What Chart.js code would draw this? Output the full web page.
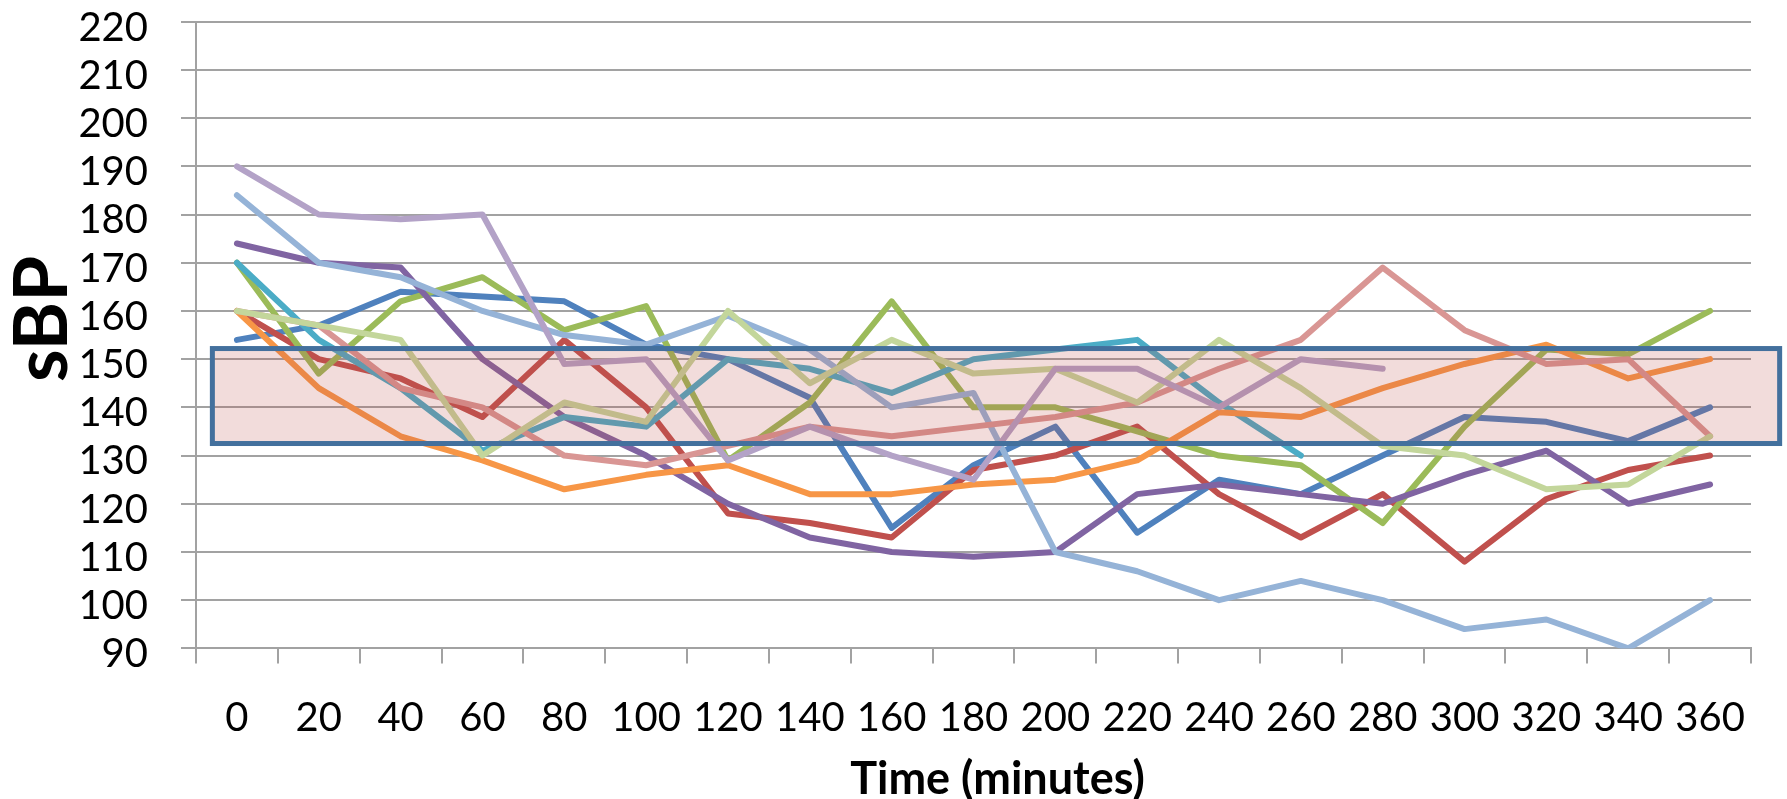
<!DOCTYPE html>
<html>
<head>
<meta charset="utf-8">
<script src="https://cdn.jsdelivr.net/npm/chart.js@4.4.1/dist/chart.umd.min.js"></script>
<style>
  html, body { margin: 0; padding: 0; background: #ffffff; }
  #wrap { width: 1787px; height: 799px; position: relative; }
  canvas { display: block; }
</style>
</head>
<body>
<div id="wrap"><canvas id="c" width="1787" height="799"></canvas></div>
<script>
// ---- data ----
const categories = ['0','20','40','60','80','100','120','140','160','180','200','220','240','260','280','300','320','340','360'];
const yTickValues = [90,100,110,120,130,140,150,160,170,180,190,200,210,220];

const patient1 = [154,157,164,163,162,153,150,142,115,128,136,114,125,122,130,138,137,133,140];
const patient2 = [160,150,146,138,154,140,118,116,113,127,130,136,122,113,122,108,121,127,130];
const patient3 = [170,147,162,167,156,161,129,141,162,140,140,135,130,128,116,136,152,151,160];
const patient4 = [174,170,169,150,138,130,120,113,110,109,110,122,124,122,120,126,131,120,124];
const patient5 = [170,154,144,131,138,136,150,148,143,150,152,154,141,130,null,null,null,null,null];
const patient6 = [160,144,134,129,123,126,128,122,122,124,125,129,139,138,144,149,153,146,150];
const patient7 = [184,170,167,160,155,153,159,152,140,143,110,106,100,104,100,94,96,90,100];
const patient8 = [160,157,144,140,130,128,132,136,134,136,138,141,148,154,169,156,149,150,134];
const patient9 = [160,157,154,130,141,137,160,145,154,147,148,141,154,144,132,130,123,124,134];
const patient10 = [190,180,179,180,149,150,129,136,130,125,148,148,140,150,148,null,null,null,null];

const seriesList = [patient1,patient2,patient3,patient4,patient5,patient6,patient7,patient8,patient9,patient10];
const seriesNames = ['1','2','3','4','5','6','7','8','9','10'];
const seriesColors = ['#4F81BD','#C0504D','#9BBB59','#8064A2','#4BACC6','#F79646','#95B3D7','#D99694','#C3D69B','#B3A2C7'];

// target band (sBP values) and its horizontal extent in category units
const bandRange = [132.5, 152.2];
const bandSpan = [-0.3, 18.85];

const xTitle = 'Time (minutes)';
const yTitle = 'sBP';

// ---- chart ----
const GRID = '#a2a2a2';
const FONT = 'Lato';

const overlayPlugin = {
  id: 'overlay',
  afterDatasetsDraw(chart) {
    const { ctx, scales: { x, y } } = chart;
    const p0 = x.getPixelForValue(0);
    const step = x.getPixelForValue(1) - p0;
    const x0 = p0 + bandSpan[0] * step;
    const x1 = p0 + bandSpan[1] * step;
    const yTop = y.getPixelForValue(bandRange[1]);
    const yBot = y.getPixelForValue(bandRange[0]);
    ctx.save();
    ctx.fillStyle = 'rgba(192,80,77,0.2)';
    ctx.fillRect(x0, yTop, x1 - x0, yBot - yTop);
    ctx.strokeStyle = '#43709D';
    ctx.lineWidth = 5;
    ctx.strokeRect(x0, yTop, x1 - x0, yBot - yTop);
    ctx.restore();
  },
  afterDraw(chart) {
    const { ctx, chartArea } = chart;
    ctx.save();
    ctx.fillStyle = '#000';
    // x title
    ctx.font = 'bold 45px ' + FONT;
    ctx.textAlign = 'center';
    ctx.textBaseline = 'alphabetic';
    ctx.fillText(xTitle, (chartArea.left + chartArea.right) / 2 + 24, 794);
    // y title
    ctx.translate(67, (chartArea.top + chartArea.bottom) / 2 - 16);
    ctx.rotate(-Math.PI / 2);
    ctx.font = 'bold 74px ' + FONT;
    ctx.textAlign = 'center';
    ctx.textBaseline = 'alphabetic';
    ctx.fillText(yTitle, 0, 0);
    ctx.restore();
  }
};

function build() {
  const datasets = seriesList.map((data, i) => ({
    label: seriesNames[i],
    data: data,
    borderColor: seriesColors[i],
    backgroundColor: seriesColors[i],
    borderWidth: 6,
    pointRadius: 0,
    pointHoverRadius: 0,
    tension: 0,
    fill: false,
    spanGaps: false,
    borderCapStyle: 'round',
    borderJoinStyle: 'round',
    order: -i
  }));

  new Chart(document.getElementById('c'), {
    type: 'line',
    data: { labels: categories, datasets },
    plugins: [overlayPlugin],
    options: {
      responsive: false,
      animation: false,
      devicePixelRatio: 1,
      layout: { padding: { top: 21.7, right: 36, bottom: 0, left: 0 } },
      plugins: { legend: { display: false }, tooltip: { enabled: false }, title: { display: false } },
      scales: {
        x: {
          type: 'category',
          offset: true,
          grid: {
            offset: true,
            drawOnChartArea: false,
            drawTicks: true,
            tickLength: 15,
            color: GRID,
            lineWidth: 2
          },
          border: { display: true, color: GRID, width: 2 },
          ticks: {
            autoSkip: false,
            maxRotation: 0,
            minRotation: 0,
            padding: 31,
            color: '#000',
            font: { family: FONT, size: 40 }
          },
          afterFit(scale) { scale.height = 150.6; scale.paddingLeft = 0; scale.paddingRight = 0; }
        },
        y: {
          min: 90,
          max: 220,
          afterBuildTicks(scale) { scale.ticks = yTickValues.map(v => ({ value: v })); },
          grid: {
            drawOnChartArea: true,
            drawTicks: true,
            tickLength: 15,
            color: GRID,
            lineWidth: 2
          },
          border: { display: true, color: GRID, width: 2 },
          ticks: {
            autoSkip: false,
            padding: 33,
            labelOffset: 6,
            color: '#000',
            font: { family: FONT, size: 40 }
          },
          afterFit(scale) { scale.width = 196; scale.paddingTop = 0; scale.paddingBottom = 0; }
        }
      }
    }
  });
}

const ready = (document.fonts && document.fonts.load)
  ? Promise.all([document.fonts.load('40px Lato'), document.fonts.load('bold 40px Lato')]).catch(() => {})
  : Promise.resolve();
ready.then(build, build);
</script>
</body>
</html>
